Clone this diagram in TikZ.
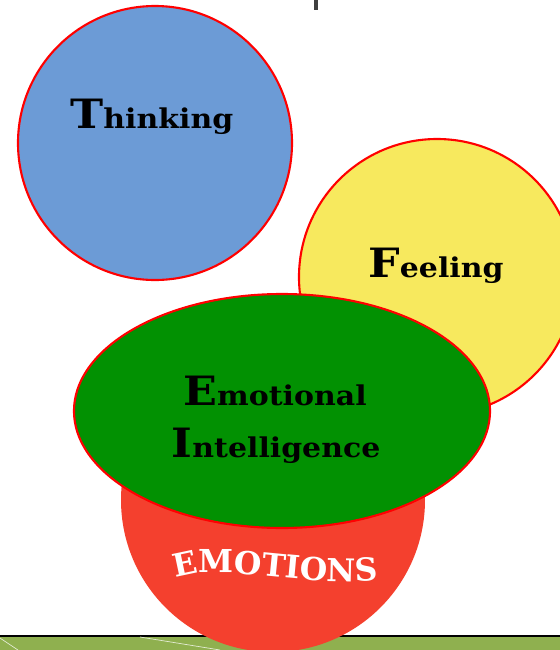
\documentclass[tikz,border=0pt]{standalone}
\usepackage{fontspec}
\setmainfont{DejaVu Serif}
\newfontfamily\labelfont{DejaVu Serif}[FakeStretch=1.1]
\usetikzlibrary{decorations.text}
\definecolor{thinkblue}{RGB}{108,155,214}
\definecolor{feelyellow}{RGB}{247,233,94}
\definecolor{emogreen}{RGB}{2,145,2}
\definecolor{emored}{RGB}{244,64,46}
\definecolor{stripgreen}{RGB}{143,176,79}
\newcommand{\firstletter}[1]{{\fontsize{23}{23}\selectfont #1}}

\begin{document}
\begin{tikzpicture}[x=0.02cm,y=-0.02cm,
  rim/.style={draw=red,line width=1.2pt},
  lbl/.style={font=\labelfont\bfseries\fontsize{15.5}{16}\selectfont,inner sep=0pt}]
\useasboundingbox (0,0) rectangle (560,650);
% bottom band
\fill[stripgreen] (0,636) rectangle (560,650);
\draw[line width=1.6pt] (0,636)--(560,636);
\draw[white!75!stripgreen,thin] (0,638)--(18,650) (140,637)--(220,650);
\fill[black!75] (314,0) rectangle (318,10);
% circles
\draw[rim,fill=thinkblue] (155,143) circle [radius=137];
\draw[rim,fill=feelyellow] (437,277) circle [radius=138];
\fill[emored] (273,500) circle [radius=152];
\draw[rim,fill=emogreen] (282,411) ellipse [x radius=208,y radius=117];
% labels
\node[lbl,anchor=base west] (thinking) at (70,128) {\firstletter{T}hinking};
\node[lbl,anchor=base west] (feeling) at (368,277) {\firstletter{F}eeling};
\node[lbl,anchor=base] (emotional) at (275,405) {\firstletter{E}motional};
\node[lbl,anchor=base] (intelligence) at (276,457) {\firstletter{I}ntelligence};
\path[decorate,decoration={text along path,text align=center,
  text={|\fontsize{18}{18}\selectfont\bfseries\color{white}|EMOTIONS}}]
  (172,580) .. controls (215,560) and (300,588) .. (382,580);
\end{tikzpicture}
\end{document}
